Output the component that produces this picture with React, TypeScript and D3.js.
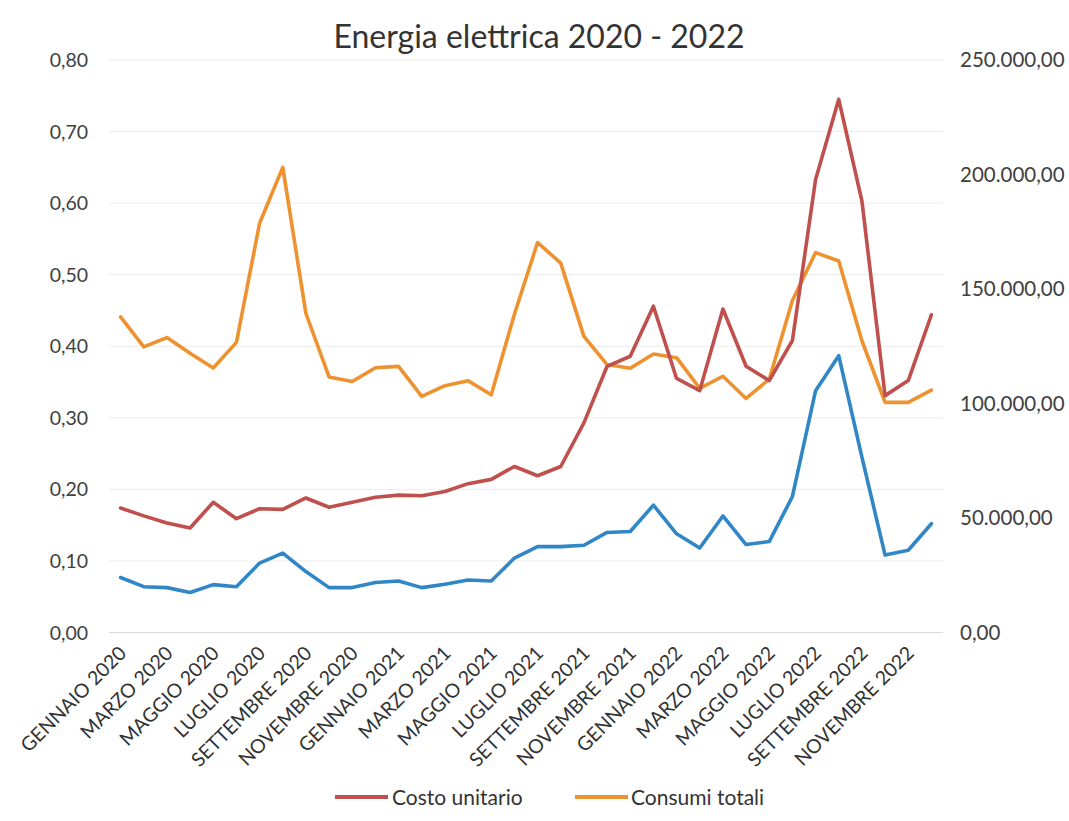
import * as d3 from 'd3'

const width = 1069
const height = 821
const margin = { top: 60, right: 126, bottom: 188.5, left: 109 }

const months = [
  'GENNAIO 2020', 'FEBBRAIO 2020', 'MARZO 2020', 'APRILE 2020', 'MAGGIO 2020', 'GIUGNO 2020',
  'LUGLIO 2020', 'AGOSTO 2020', 'SETTEMBRE 2020', 'OTTOBRE 2020', 'NOVEMBRE 2020', 'DICEMBRE 2020',
  'GENNAIO 2021', 'FEBBRAIO 2021', 'MARZO 2021', 'APRILE 2021', 'MAGGIO 2021', 'GIUGNO 2021',
  'LUGLIO 2021', 'AGOSTO 2021', 'SETTEMBRE 2021', 'OTTOBRE 2021', 'NOVEMBRE 2021', 'DICEMBRE 2021',
  'GENNAIO 2022', 'FEBBRAIO 2022', 'MARZO 2022', 'APRILE 2022', 'MAGGIO 2022', 'GIUGNO 2022',
  'LUGLIO 2022', 'AGOSTO 2022', 'SETTEMBRE 2022', 'OTTOBRE 2022', 'NOVEMBRE 2022', 'DICEMBRE 2022',
]

// €/kWh, left axis
const costoUnitario = [
  0.174, 0.163, 0.153, 0.146, 0.182, 0.159, 0.173, 0.172, 0.188, 0.175, 0.182, 0.189,
  0.192, 0.191, 0.197, 0.208, 0.214, 0.232, 0.219, 0.232, 0.293, 0.372, 0.386, 0.456,
  0.355, 0.338, 0.452, 0.372, 0.352, 0.408, 0.633, 0.745, 0.603, 0.331, 0.352, 0.444,
]

// kWh, right axis
const consumiTotali = [
  137800, 124700, 128800, 121900, 115500, 126700, 178700, 203100, 139300, 111600, 109600, 115600,
  116200, 103100, 107800, 109900, 103800, 139000, 170300, 161300, 129300, 117000, 115400, 121600,
  120000, 106600, 111900, 102200, 110600, 145000, 165900, 162200, 127400, 100500, 100500, 105800,
]

// € totali, right axis (blue line, not in legend)
const spesaTotale = [
  24000, 20000, 19600, 17500, 20900, 20000, 30300, 34700, 26600, 19600, 19600, 21800,
  22500, 19600, 21100, 22900, 22500, 32500, 37500, 37500, 38100, 43700, 44100, 55600,
  43100, 36900, 50900, 38400, 39700, 59400, 105600, 120900, 76600, 33800, 35900, 47500,
]

const leftTicks = [0, 0.1, 0.2, 0.3, 0.4, 0.5, 0.6, 0.7, 0.8]
const rightTicks = [0, 50000, 100000, 150000, 200000, 250000]

const RED = '#c0504d'
const ORANGE = '#ee9230'
const BLUE = '#3187c6'
const FONT = 'Lato, "Open Sans", sans-serif'

const itNum = d3.formatLocale({ decimal: ',', thousands: '.', grouping: [3], currency: ['€', ''] })
const fmt = itNum.format(',.2f')

export default function App() {
  const x = d3
    .scalePoint<string>()
    .domain(months)
    .range([margin.left, width - margin.right])
    .padding(0.5)
  const yL = d3.scaleLinear([0, 0.8], [height - margin.bottom, margin.top])
  const yR = d3.scaleLinear([0, 250000], [height - margin.bottom, margin.top])

  const lineL = d3
    .line<number>()
    .x((_, i) => x(months[i])!)
    .y((d) => yL(d))
  const lineR = d3
    .line<number>()
    .x((_, i) => x(months[i])!)
    .y((d) => yR(d))

  const y0 = yL(0)

  return (
    <svg width={width} height={height} style={{ position: 'absolute', left: 0, top: 0, background: '#fff' }}>
      <text x={539} y={48} textAnchor="middle" fontFamily={FONT} fontSize={32} fill="#333">
        Energia elettrica 2020 - 2022
      </text>

      {/* grid */}
      <g>
        {leftTicks.map((t) => (
          <line
            key={t}
            x1={margin.left}
            x2={width - margin.right}
            y1={yL(t)}
            y2={yL(t)}
            stroke={t === 0 ? '#d9d9d9' : '#ececec'}
            strokeWidth={1}
          />
        ))}
      </g>

      {/* left axis */}
      <g fontFamily={FONT} fontSize={19.5} fill="#404040">
        {leftTicks.map((t) => (
          <text key={t} x={88} y={yL(t) + 7} textAnchor="end">
            {fmt(t)}
          </text>
        ))}
      </g>

      {/* right axis */}
      <g fontFamily={FONT} fontSize={20.5} fill="#404040">
        {rightTicks.map((t) => (
          <text key={t} x={960} y={yR(t) + 7} textAnchor="start">
            {fmt(t)}
          </text>
        ))}
      </g>

      {/* x labels, every other month */}
      <g fontFamily={FONT} fontSize={19.5} fill="#333">
        {months.map((m, i) =>
          i % 2 === 0 ? (
            <text
              key={m}
              transform={`translate(${x(m)! + 7},${y0 + 22}) rotate(-45)`}
              textAnchor="end"
            >
              {m}
            </text>
          ) : null
        )}
      </g>

      {/* lines */}
      <g fill="none" strokeWidth={3.6} strokeLinejoin="round" strokeLinecap="round">
        <path d={lineR(consumiTotali)!} stroke={ORANGE} />
        <path d={lineR(spesaTotale)!} stroke={BLUE} />
        <path d={lineL(costoUnitario)!} stroke={RED} />
      </g>

      {/* legend */}
      <g fontFamily={FONT} fontSize={21} fill="#333">
        <line x1={335} x2={388} y1={797} y2={797} stroke={RED} strokeWidth={4} />
        <text x={392} y={805}>Costo unitario</text>
        <line x1={575} x2={628} y1={797} y2={797} stroke={ORANGE} strokeWidth={4} />
        <text x={631} y={805}>Consumi totali</text>
      </g>
    </svg>
  )
}
